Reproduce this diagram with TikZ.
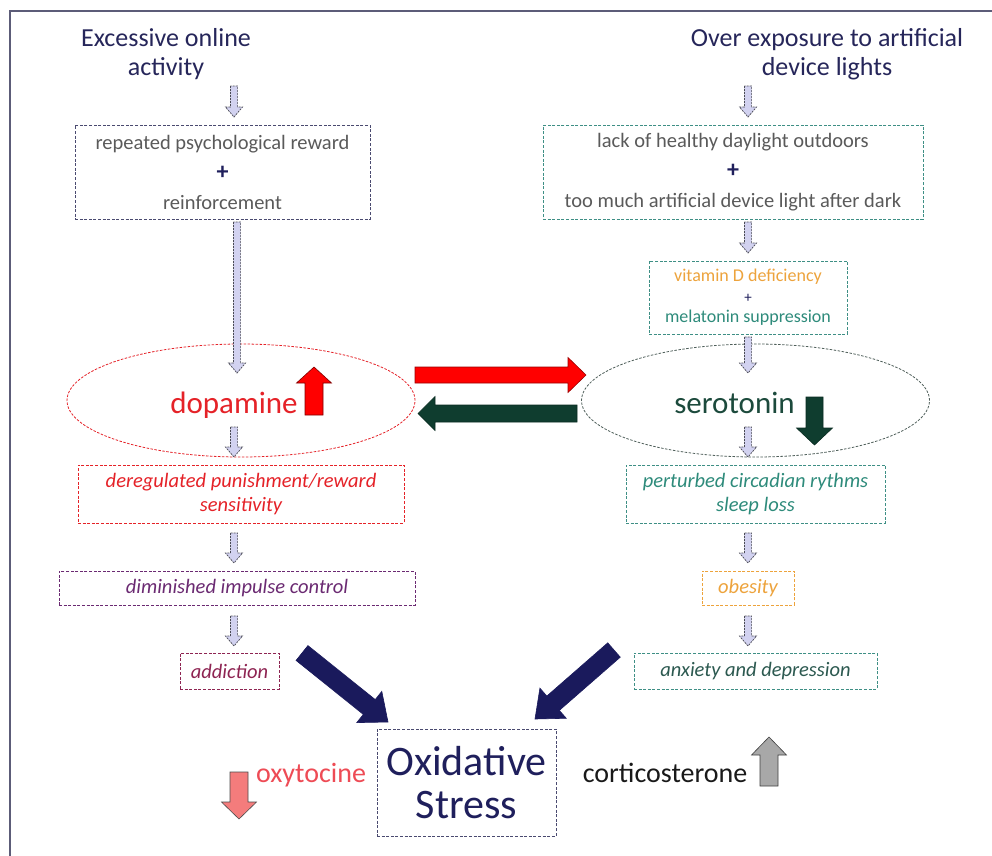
\documentclass[tikz,border=0pt]{standalone}
\usepackage{fontspec}
\setmainfont{Carlito}
\usetikzlibrary{calc,shapes.geometric}
\definecolor{navy}{HTML}{1F1F5C}
\definecolor{titlec}{HTML}{26265A}
\definecolor{graytxt}{HTML}{5A5A5A}
\definecolor{lav}{HTML}{D2D2F0}
\definecolor{arrline}{HTML}{4A4A55}
\definecolor{dopred}{HTML}{E52228}
\definecolor{serogreen}{HTML}{1C4A3C}
\definecolor{dkgreen}{HTML}{0F3D2F}
\definecolor{tealc}{HTML}{2E8B7B}
\definecolor{tealbox}{HTML}{3E8F85}
\definecolor{orangec}{HTML}{EDA33C}
\definecolor{purplec}{HTML}{6B2A72}
\definecolor{maroonc}{HTML}{8E2452}
\definecolor{anxc}{HTML}{2C5950}
\definecolor{pinkc}{HTML}{EE4B55}
\definecolor{salmon}{HTML}{F47C7C}
\definecolor{grayarr}{HTML}{A8A8A8}
\definecolor{framec}{HTML}{5C5C78}
\definecolor{navybox}{HTML}{4A4A70}
\definecolor{serobox}{HTML}{4F5F5A}
\definecolor{arrnavy}{HTML}{1A1A5C}
% block arrow: style, start, end, shaft half width, head half width, head length
\newcommand\blockarr[6]{%
  \draw[#1] ($#2!#4!-90:#3$) -- ($#3!#6!#2!#4!90:#2$) -- ($#3!#6!#2!#5!90:#2$)
    -- #3 -- ($#3!#6!#2!#5!-90:#2$) -- ($#3!#6!#2!#4!-90:#2$) -- ($#2!#4!90:#3$) -- cycle;}
\begin{document}
\begin{tikzpicture}[x=1pt,y=-1pt,
  dbox/.style={rectangle, draw, dash pattern=on 3pt off 1.6pt, line width=0.9pt, inner sep=0pt, align=center},
  dell/.style={ellipse, draw, dash pattern=on 2.5pt off 1.5pt, line width=0.8pt, inner sep=0pt, minimum width=348pt, minimum height=113pt},
  tfont/.style={font=\fontsize{26}{29}\selectfont, text=titlec, align=center, inner sep=0pt},
  bfont/.style={font=\fontsize{20.5}{30}\selectfont},
  ifont/.style={font=\fontsize{20.5}{24}\selectfont\itshape},
  smallarr/.style={fill=lav, draw=arrline, dash pattern=on 2pt off 1pt, line width=0.7pt, line join=miter},
  bigarr/.style={line width=0.6pt, line join=miter}]
\fill[white] (0,0) rectangle (992,855);
\useasboundingbox (0,0) rectangle (992,855);
\draw[framec, line width=1.8pt] (10,856) -- (10,11) -- (993,11);

% titles
\node[tfont, anchor=base] (t1) at (166,75) {Excessive online\\activity};
\node[tfont, anchor=base] (t2) at (827,75) {Over exposure to artificial\\device lights};

% boxes
\node[dbox, draw=navybox, bfont, text=graytxt, minimum width=295pt, minimum height=94pt] (b1) at (222.5,172)
  {repeated psychological reward\\{\color{navy}\fontsize{24}{30}\selectfont\bfseries +}\\reinforcement};
\node[dbox, draw=tealbox, bfont, text=graytxt, minimum width=380pt, minimum height=94pt] (b2) at (733,172)
  {lack of healthy daylight outdoors\\{\color{navy}\fontsize{24}{30}\selectfont\bfseries +}\\too much artificial device light after dark};
\node[dbox, draw=tealbox, font=\fontsize{18}{20.5}\selectfont, minimum width=198pt, minimum height=73pt] (b3) at (748,297.5)
  {{\color{orangec}vitamin D deficiency}\\{\color{navy}\fontsize{15}{20.5}\selectfont +}\\{\color{tealc}melatonin suppression}};

% ellipses
\node[dell, draw=dopred] (dop) at (241,400.5) {};
\node[font=\fontsize{31}{31}\selectfont, text=dopred, anchor=base, inner sep=0pt] (doptxt) at (234,413) {dopamine};
\node[dell, draw=serobox] (sero) at (755.5,400.5) {};
\node[font=\fontsize{31}{31}\selectfont, text=serogreen, anchor=base, inner sep=0pt] (serotxt) at (734.5,413) {serotonin};

% left chain
\node[dbox, draw=dopred, ifont, text=dopred, minimum width=326pt, minimum height=58pt] (b4) at (241,494)
  {deregulated punishment/reward\\sensitivity};
\node[dbox, draw=purplec, ifont, text=purplec, minimum width=356pt, minimum height=34pt] (b5) at (237,588)
  {diminished impulse control};
\node[dbox, draw=maroonc, ifont, text=maroonc, minimum width=99pt, minimum height=36pt] (b6) at (229.5,671)
  {addiction};

% right chain
\node[dbox, draw=tealbox, ifont, text=tealc, minimum width=259pt, minimum height=58pt] (b7) at (755.5,494)
  {perturbed circadian rythms\\sleep loss};
\node[dbox, draw=orangec, ifont, text=orangec, minimum width=92pt, minimum height=34pt] (b8) at (748,588)
  {obesity};
\node[dbox, draw=tealbox, ifont, text=anxc, minimum width=243pt, minimum height=36pt] (b9) at (755.5,671)
  {anxiety and depression};

% oxidative stress
\node[dbox, draw=navybox, font=\fontsize{42}{43}\selectfont, text=navy, minimum width=179pt, minimum height=107pt] (ox) at (466.5,782.5)
  {Oxidative\\Stress};
\node[font=\fontsize{28}{28}\selectfont, text=pinkc, anchor=base, inner sep=0pt] (oxy) at (311,782) {oxytocine};
\node[font=\fontsize{28}{28}\selectfont, text=black!90, anchor=base, inner sep=0pt] (cort) at (665,782) {corticosterone};

% arrow end points
\coordinate (a1s) at (234,86);   \coordinate (a1e) at (234,117);
\coordinate (a2s) at (237,222);  \coordinate (a2e) at (237,373);
\coordinate (a3s) at (234,427);  \coordinate (a3e) at (234,457);
\coordinate (a4s) at (234,533);  \coordinate (a4e) at (234,563);
\coordinate (a5s) at (234,616);  \coordinate (a5e) at (234,646);
\coordinate (a6s) at (748,86);   \coordinate (a6e) at (748,117);
\coordinate (a7s) at (748,222);  \coordinate (a7e) at (748,253);
\coordinate (a8s) at (748,337);  \coordinate (a8e) at (748,373);
\coordinate (a9s) at (748,427);  \coordinate (a9e) at (748,457);
\coordinate (a10s) at (748,533); \coordinate (a10e) at (748,563);
\coordinate (a11s) at (748,616); \coordinate (a11e) at (748,646);

\foreach \i in {1,...,11}{
  \blockarr{smallarr}{(a\i s)}{(a\i e)}{3.6pt}{8.5pt}{10pt}
}

\coordinate (rs) at (415,375);   \coordinate (re) at (586,375);
\coordinate (gs) at (577,413.5); \coordinate (ge) at (418,413.5);
\coordinate (dus) at (314,415);  \coordinate (due) at (314,367);
\coordinate (sds) at (814.5,397);\coordinate (sde) at (814.5,445);
\coordinate (nls) at (302,653);  \coordinate (nle) at (388,722);
\coordinate (nrs) at (614,650);  \coordinate (nre) at (535,719);
\coordinate (pds) at (239,772);  \coordinate (pde) at (239,819);
\coordinate (gus) at (769,786);  \coordinate (gue) at (769,737);

\blockarr{bigarr, fill=red, draw=red!60!black}{(rs)}{(re)}{8pt}{17.5pt}{18pt}
\blockarr{bigarr, fill=dkgreen, draw=dkgreen!70!black}{(gs)}{(ge)}{8.5pt}{17pt}{17pt}
\blockarr{bigarr, fill=red, draw=red!50!black}{(dus)}{(due)}{9pt}{17.5pt}{16pt}
\blockarr{bigarr, fill=dkgreen, draw=dkgreen!70!black}{(sds)}{(sde)}{8.5pt}{18pt}{17pt}
\blockarr{bigarr, fill=arrnavy, draw=arrnavy}{(nls)}{(nle)}{9.5pt}{20pt}{24pt}
\blockarr{bigarr, fill=arrnavy, draw=arrnavy}{(nrs)}{(nre)}{9.5pt}{20pt}{24pt}
\blockarr{bigarr, fill=salmon, draw=black!70}{(pds)}{(pde)}{9pt}{17.5pt}{17pt}
\blockarr{bigarr, fill=grayarr, draw=black!75}{(gus)}{(gue)}{9pt}{17.5pt}{18pt}
\end{tikzpicture}
\end{document}
